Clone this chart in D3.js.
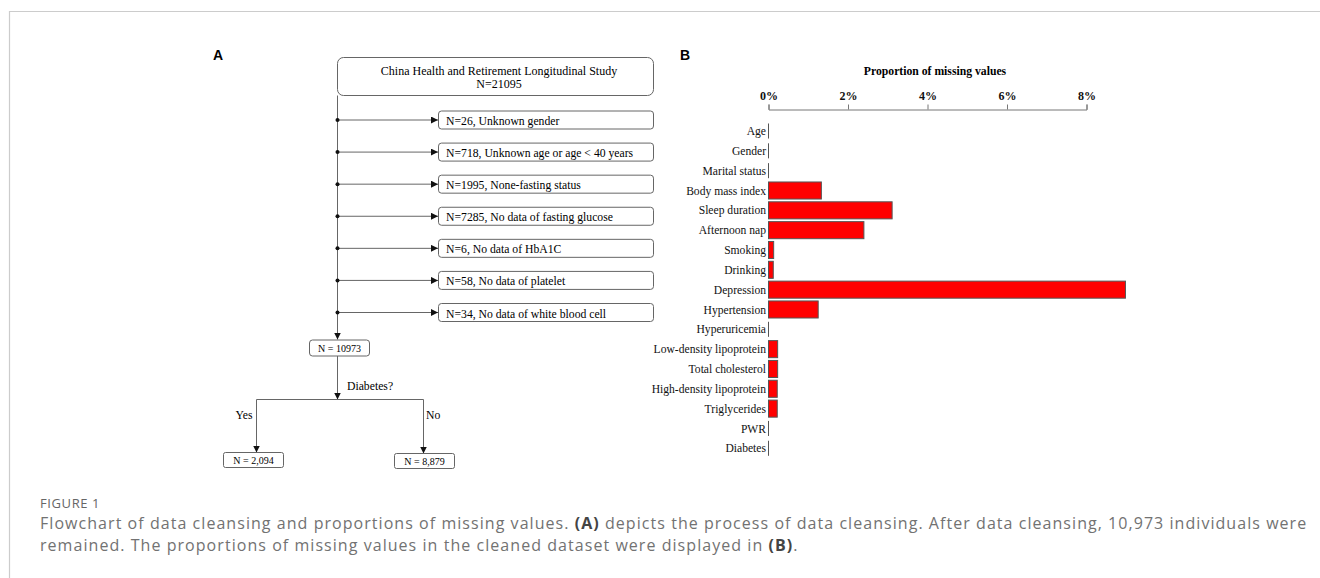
<!DOCTYPE html>
<html>
<head>
<meta charset="utf-8">
<script src="https://cdn.jsdelivr.net/npm/d3@7"></script>
<style>
  body { margin: 0; background: #fff; }
  svg { display: block; }
</style>
</head>
<body>
<svg id="fig" width="1320" height="578"></svg>
<script>
// ---- data ----
var cohortTitle = "China Health and Retirement Longitudinal Study";
var cohortN = "N=21095";
var exclusions = [
  "N=26, Unknown gender",
  "N=718, Unknown age or age < 40 years",
  "N=1995, None-fasting status",
  "N=7285, No data of fasting glucose",
  "N=6, No data of HbA1C",
  "N=58, No data of platelet",
  "N=34, No data of white blood cell"
];
var remainingN = "N = 10973";
var splitQuestion = "Diabetes?";
var outcomeLabels = ["Yes", "No"];
var outcomeN = ["N = 2,094", "N = 8,879"];

var variables = ["Age", "Gender", "Marital status", "Body mass index", "Sleep duration",
  "Afternoon nap", "Smoking", "Drinking", "Depression", "Hypertension", "Hyperuricemia",
  "Low-density lipoprotein", "Total cholesterol", "High-density lipoprotein",
  "Triglycerides", "PWR", "Diabetes"];
var missingPct = [0, 0, 0, 1.33, 3.11, 2.40, 0.13, 0.12, 8.98, 1.25, 0, 0.23, 0.23, 0.22, 0.22, 0, 0];
var pctTicks = [0, 2, 4, 6, 8];

var SERIF = "'Liberation Serif', 'Times New Roman', serif";
var SANS = "'Liberation Sans', Arial, sans-serif";
var FS = 11.7;

var SVG = d3.select("svg#fig");

// frame
SVG.append("path")
   .attr("d", "M9.5,578V11.5H1320")
   .attr("fill", "none")
   .attr("stroke", "#cccccc")
   .attr("stroke-width", 1.2);

// panel letters
SVG.append("text").attr("x", 213).attr("y", 60).text("A")
   .attr("font-family", SANS).attr("font-weight", "bold").attr("font-size", 14);
SVG.append("text").attr("x", 680).attr("y", 60).text("B")
   .attr("font-family", SANS).attr("font-weight", "bold").attr("font-size", 14);

// arrow marker
SVG.append("defs").append("marker")
   .attr("id", "arr")
   .attr("viewBox", "0 0 10 10")
   .attr("refX", 10).attr("refY", 5)
   .attr("markerWidth", 7).attr("markerHeight", 7)
   .attr("markerUnits", "userSpaceOnUse")
   .attr("orient", "auto")
   .append("path").attr("d", "M0,0L10,5L0,10z").attr("fill", "#111");

// ---- flowchart (A) ----
var FLOW = SVG.append("g").attr("id", "flow");
var LINE = "#666";
var mainX = 337;

FLOW.append("rect")
    .attr("x", 337.5).attr("y", 57.5).attr("width", 316).attr("height", 38).attr("rx", 6)
    .attr("fill", "#fff").attr("stroke", LINE);
FLOW.append("text").attr("x", 499).attr("y", 74.5).attr("text-anchor", "middle")
    .attr("font-family", SERIF).attr("font-size", 12).text(cohortTitle);
FLOW.append("text").attr("x", 499).attr("y", 87.5).attr("text-anchor", "middle")
    .attr("font-family", SERIF).attr("font-size", 12).text(cohortN);

var exY = d3.scalePoint().domain(d3.range(exclusions.length)).range([119.5, 312]);

// main trunk
FLOW.append("line")
    .attr("x1", mainX + 0.5).attr("x2", mainX + 0.5).attr("y1", 95.5).attr("y2", 339.5)
    .attr("stroke", LINE).attr("marker-end", "url(#arr)");

var ex = FLOW.selectAll("g.ex").data(exclusions).enter().append("g").attr("class", "ex");
ex.append("line")
  .attr("x1", mainX + 0.5).attr("x2", 438)
  .attr("y1", function(d, i){ return exY(i) + 0.5; })
  .attr("y2", function(d, i){ return exY(i) + 0.5; })
  .attr("stroke", LINE).attr("marker-end", "url(#arr)");
ex.append("circle")
  .attr("cx", mainX + 0.5).attr("cy", function(d, i){ return exY(i) + 0.5; })
  .attr("r", 2).attr("fill", "#111");
ex.append("rect")
  .attr("x", 438.5).attr("y", function(d, i){ return exY(i) - 8.5; })
  .attr("width", 215).attr("height", 18).attr("rx", 3)
  .attr("fill", "#fff").attr("stroke", LINE);
ex.append("text")
  .attr("x", 446).attr("y", function(d, i){ return exY(i) + 5.5; })
  .attr("font-family", SERIF).attr("font-size", FS).text(function(d){ return d; });

// remaining box
FLOW.append("rect")
    .attr("x", 309.5).attr("y", 340).attr("width", 60).attr("height", 16).attr("rx", 3)
    .attr("fill", "#fff").attr("stroke", LINE);
FLOW.append("text").attr("x", 339.5).attr("y", 351.5).attr("text-anchor", "middle")
    .attr("font-family", SERIF).attr("font-size", 10).text(remainingN);

FLOW.append("line")
    .attr("x1", mainX + 0.5).attr("x2", mainX + 0.5).attr("y1", 356).attr("y2", 399.5)
    .attr("stroke", LINE).attr("marker-end", "url(#arr)");
FLOW.append("text").attr("x", 347).attr("y", 389.5)
    .attr("font-family", SERIF).attr("font-size", FS).text(splitQuestion);

var brX = [256, 423];
var boxX = [223.5, 394.5];
var boxY = [452.5, 453.5];
FLOW.append("line")
    .attr("x1", brX[0] + 0.5).attr("x2", brX[1] + 0.5).attr("y1", 399.5).attr("y2", 399.5)
    .attr("stroke", LINE);
var br = FLOW.selectAll("g.br").data(outcomeLabels).enter().append("g").attr("class", "br");
br.append("line")
  .attr("x1", function(d, i){ return brX[i] + 0.5; })
  .attr("x2", function(d, i){ return brX[i] + 0.5; })
  .attr("y1", 399.5).attr("y2", function(d, i){ return boxY[i]; })
  .attr("stroke", LINE).attr("marker-end", "url(#arr)");
br.append("text")
  .attr("x", function(d, i){ return i === 0 ? brX[i] - 3.5 : brX[i] + 3; })
  .attr("y", 419)
  .attr("text-anchor", function(d, i){ return i === 0 ? "end" : "start"; })
  .attr("font-family", SERIF).attr("font-size", FS).text(function(d){ return d; });
br.append("rect")
  .attr("x", function(d, i){ return boxX[i]; })
  .attr("y", function(d, i){ return boxY[i]; })
  .attr("width", 60).attr("height", 15).attr("rx", 2)
  .attr("fill", "#fff").attr("stroke", LINE);
br.append("text")
  .attr("x", function(d, i){ return boxX[i] + 30; })
  .attr("y", function(d, i){ return boxY[i] + 11; })
  .attr("text-anchor", "middle")
  .attr("font-family", SERIF).attr("font-size", 10).text(function(d, i){ return outcomeN[i]; });

// ---- bar chart (B) ----
var BAR = SVG.append("g").attr("id", "bars");
var x = d3.scaleLinear().domain([0, 8]).range([768.5, 1086.5]);
var y = d3.scaleBand().domain(variables).range([121.1, 458.2])
          .paddingInner(0.14).paddingOuter(0.07);

BAR.append("text")
   .attr("x", 935).attr("y", 74.5).attr("text-anchor", "middle")
   .attr("font-family", SERIF).attr("font-weight", "bold").attr("font-size", 11.7)
   .text("Proportion of missing values");

var axis = BAR.append("g")
   .attr("transform", "translate(0,109.5)")
   .call(d3.axisTop(x).tickValues(pctTicks).tickFormat(function(d){ return d + "%"; })
           .tickSize(5).tickSizeOuter(5).tickPadding(5));
axis.selectAll("path, line").attr("stroke", "#777");
axis.selectAll("text")
    .attr("font-family", SERIF).attr("font-weight", "bold").attr("font-size", 12)
    .attr("fill", "#111");

var rows = BAR.selectAll("g.row").data(variables).enter().append("g").attr("class", "row");
rows.append("text")
    .attr("x", 766).attr("y", function(d){ return y(d) + y.bandwidth() / 2; })
    .attr("dy", "0.35em").attr("text-anchor", "end")
    .attr("font-family", SERIF).attr("font-size", 11.6).attr("fill", "#111")
    .text(function(d){ return d; });
rows.filter(function(d, i){ return missingPct[i] > 0; })
    .append("rect")
    .attr("x", x(0)).attr("y", function(d){ return y(d); })
    .attr("width", function(d){ return x(missingPct[variables.indexOf(d)]) - x(0); })
    .attr("height", y.bandwidth())
    .attr("fill", "#ff0000").attr("stroke", "#555").attr("stroke-width", 1);
rows.filter(function(d, i){ return missingPct[i] === 0; })
    .append("line")
    .attr("x1", x(0)).attr("x2", x(0))
    .attr("y1", function(d){ return y(d) + 1; })
    .attr("y2", function(d){ return y(d) + y.bandwidth() - 1; })
    .attr("stroke", "#555").attr("stroke-width", 1);

// ---- caption ----
var CAP = SVG.append("g").attr("id", "caption").attr("font-family", "'Open Sans', sans-serif");
CAP.append("text").attr("x", 40).attr("y", 508).attr("font-size", 13).attr("fill", "#666")
   .attr("letter-spacing", 0.6)
   .text("FIGURE 1");
var capLines = [
  [["Flowchart of data cleansing and proportions of missing values. ", false], ["(A)", true],
   [" depicts the process of data cleansing. After data cleansing, 10,973 individuals were", false]],
  [["remained. The proportions of missing values in the cleaned dataset were displayed in ", false],
   ["(B)", true], [".", false]]
];
capLines.forEach(function(parts, li){
  var t = CAP.append("text").attr("x", 40).attr("y", 529 + li * 21.5)
             .attr("font-size", 16).attr("letter-spacing", 1.05).attr("fill", "#727272");
  parts.forEach(function(p){
    t.append("tspan").text(p[0])
     .attr("font-weight", p[1] ? 700 : 400)
     .attr("fill", p[1] ? "#444" : null);
  });
});
</script>
</body>
</html>
